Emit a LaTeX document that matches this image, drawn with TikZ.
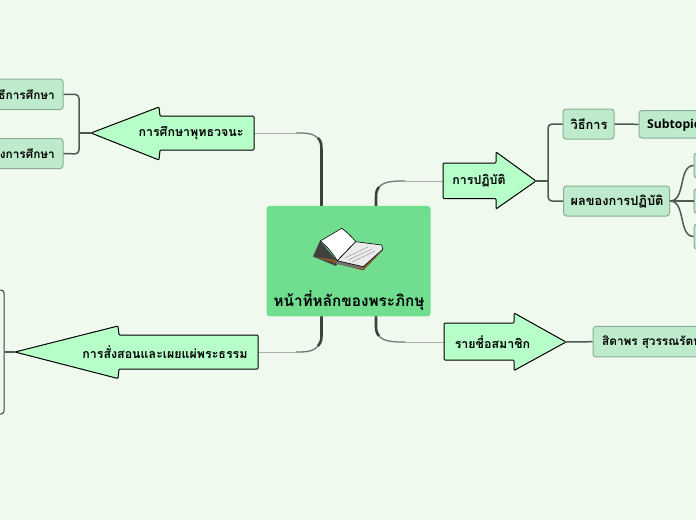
\documentclass[tikz,border=0pt]{standalone}
\usepackage{fontspec}
\newfontfamily\thaifont[Script=Thai]{Loma}
\newfontfamily\latinfont{Open Sans}
\definecolor{bgc}{HTML}{EFF9EE}
\definecolor{centerc}{HTML}{70DD8F}
\definecolor{arrowc}{HTML}{B7FFC9}
\definecolor{subc}{HTML}{BDEBCB}
\definecolor{subb}{HTML}{8AAE94}
\definecolor{linec}{HTML}{4D5A50}
\definecolor{thinc}{HTML}{A8B0A8}
\definecolor{midc}{HTML}{6F7A70}
\definecolor{darkc}{HTML}{3A423C}
\tikzset{
  x=1pt,y=-1pt,
  arrowshape/.style={draw=black,fill=arrowc,line width=1pt,rounded corners=1pt},
  arrowtext/.style={font=\thaifont\bfseries\fontsize{12.4}{14}\selectfont,inner sep=0pt,text=black},
  subbox/.style={draw=subb,fill=subc,line width=1pt,rounded corners=3pt,inner sep=0pt},
  subtext/.style={font=\thaifont\bfseries\fontsize{12.8}{14}\selectfont,inner sep=0pt,text=black},
  edgetext/.style={font=\thaifont\bfseries\fontsize{11.8}{14}\selectfont,inner sep=0pt,text=black},
  conn/.style={draw=linec,line width=1.5pt,rounded corners=4pt},
  curvec/.style={draw=linec,line width=1.5pt},
}
\begin{document}
\begin{tikzpicture}
\useasboundingbox (0,0) rectangle (696,520);
\clip (0,0) rectangle (696,520);
\fill[bgc] (0,0) rectangle (696,520);

% named anchor points
\coordinate (a1tip) at (91,133);
\coordinate (a1end) at (254,133);
\coordinate (a2tip) at (15,352);
\coordinate (a2end) at (258,352);
\coordinate (a3tip) at (536,181);
\coordinate (a3end) at (443,181);
\coordinate (a4tip) at (566,342);
\coordinate (a4end) at (444,342);

% main connectors
\draw[thinc,line width=.8pt] (a1end) -- (296,133);
\draw[midc,line width=1.3pt] (296,133) .. controls (305,133) and (313,133) .. (318,138);
\draw[darkc,line width=2.6pt] (318,138) .. controls (321,141) and (321.5,144) .. (321.5,150) -- (321.5,208);
\draw[thinc,line width=.8pt] (a2end) -- (296,352);
\draw[midc,line width=1.3pt] (296,352) .. controls (305,352) and (313,352) .. (318,346);
\draw[darkc,line width=2.6pt] (318,346) .. controls (321,342) and (321.5,340) .. (321.5,335) -- (321.5,314);
\draw[thinc,line width=.8pt] (a3end) -- (405,181);
\draw[midc,line width=1.3pt] (405,181) .. controls (395,181) and (384,181) .. (379,187);
\draw[darkc,line width=2.6pt] (379,187) .. controls (376.5,190) and (376,193) .. (376,197) -- (376,208);
\draw[thinc,line width=.8pt] (a4end) -- (405,342);
\draw[midc,line width=1.3pt] (405,342) .. controls (395,342) and (384,342) .. (379,336);
\draw[darkc,line width=2.6pt] (379,336) .. controls (376.5,333) and (376,330) .. (376,326) -- (376,314);

% central topic
\node[draw=none,fill=centerc,rounded corners=3pt,minimum width=164pt,minimum height=110.5pt,inner sep=0pt] (center) at (348.5,261.2) {};
\node[font=\thaifont\bfseries\fontsize{15.3}{17}\selectfont,inner sep=0pt] (centertext) at (349,300.5) {หน้าที่หลักของพระภิกษุ};

% book
\fill[black!75] (313,256.5) -- (320,241) -- (338,262) -- (336,266) -- cycle;
\fill[brown!70!black] (313,256.7) -- (338,264) -- (363.3,270.5) -- (383,250) -- (363,266) -- (337,260) -- cycle;
\fill[black!55] (337,261) -- (363,267) -- (363,269) -- (336,264) -- cycle;
\draw[black,line width=.6pt,fill=white] (320.3,241) -- (341.7,228.3) .. controls (347,232) and (352,237) .. (355.7,241.7) -- (337.3,260.7) .. controls (333,254) and (327,246) .. (320.3,241) -- cycle;
\draw[black,line width=.6pt,fill=black!8] (337.3,260.7) -- (355.7,241.7) -- (381.7,245) -- (382.7,249.3) -- (363.3,266.7) -- cycle;
\draw[black!40,line width=.5pt] (345,258) -- (368,247) (348,260) -- (372,249) (352,262) -- (375,251);

% arrows
\draw[arrowshape] (a1tip) -- (159,107) -- (160,116) -- (254,116) -- (254,150) -- (160,150) -- (159,160) -- cycle;
\draw[arrowshape] (a2tip) -- (118,326) -- (119,335) -- (258,335) -- (258,369) -- (119,369) -- (118,378.5) -- cycle;
\draw[arrowshape] (a3tip) -- (496,152) -- (496,163) -- (443,163) -- (443,198.5) -- (496,198.5) -- (496,209) -- cycle;
\draw[arrowshape] (a4tip) -- (514,313) -- (514,323) -- (444,323) -- (444,360) -- (514,360) -- (514,370.5) -- cycle;

\node[arrowtext] (a1) at (191,133) {การศึกษาพุทธวจนะ};
\node[arrowtext] (a2) at (165,352) {การสั่งสอนและเผยแผ่พระธรรม};
\node[arrowtext] (a3) at (479,181) {การปฏิบัติ};
\node[arrowtext] (a4) at (492.5,342) {รายชื่อสมาชิก};

% sub nodes
\node[subbox,minimum width=80pt,minimum height=30.5pt] (l1) at (23,94.3) {};
\node[subbox,minimum width=80pt,minimum height=30pt] (l2) at (23,153.5) {};
\node[edgetext,anchor=east] (l1t) at (55,94.5) {วิธีการศึกษา};
\node[edgetext,anchor=east] (l2t) at (55,154) {ผลของการศึกษา};
\node[draw=darkc,fill=bgc,line width=1pt,rounded corners=3pt,minimum width=30pt,minimum height=124pt,inner sep=0pt] (l3) at (-11,352) {};

\node[subbox,minimum width=51pt,minimum height=30pt] (r1) at (588.5,124) {};
\node[subtext] (r1t) at (589,124) {วิธีการ};
\node[subbox,minimum width=90pt,minimum height=27.5pt] (r2) at (684,124.3) {};
\node[subbox,minimum width=106pt,minimum height=30pt] (r3) at (616.5,201) {};
\node[subtext] (r3t) at (617,201.5) {ผลของการปฏิบัติ};
\node[subbox,minimum width=40pt,minimum height=25pt] (s1) at (714,165.5) {};
\node[subbox,minimum width=40pt,minimum height=25pt] (s2) at (714,201) {};
\node[subbox,minimum width=40pt,minimum height=25pt] (s3) at (714,236.5) {};
\node[subbox,minimum width=140pt,minimum height=30.5pt] (r4) at (663,341.7) {};
\node[edgetext,anchor=west] (r4t) at (602,342) {สิดาพร สุวรรณรัตน์};
\node[subtext,anchor=west,font=\latinfont\bfseries\fontsize{12.2}{14}\selectfont] (r2t) at (647,125.5) {Subtopic};

% branches
\draw[conn] (a1tip) -- (79,133);
\draw[conn] (l1.east) -- (79,94.3) -- (79,154) -- (l2.east);
\draw[conn] (a2tip) -- (l3.east |- a2tip);
\draw[conn] (a3tip) -- (548,181);
\draw[conn] (r1.west) -- (548,124) -- (548,201) -- (r3.west);
\draw[conn] (r1.east) -- (r2.west);
\draw[curvec] (r3.east) .. controls (686,201) and (678,166) .. (s1.west);
\draw[curvec] (r3.east) -- (s2.west);
\draw[curvec] (r3.east) .. controls (686,201) and (678,236) .. (s3.west);
\draw[conn] (a4tip) -- (r4.west);
\end{tikzpicture}
\end{document}
